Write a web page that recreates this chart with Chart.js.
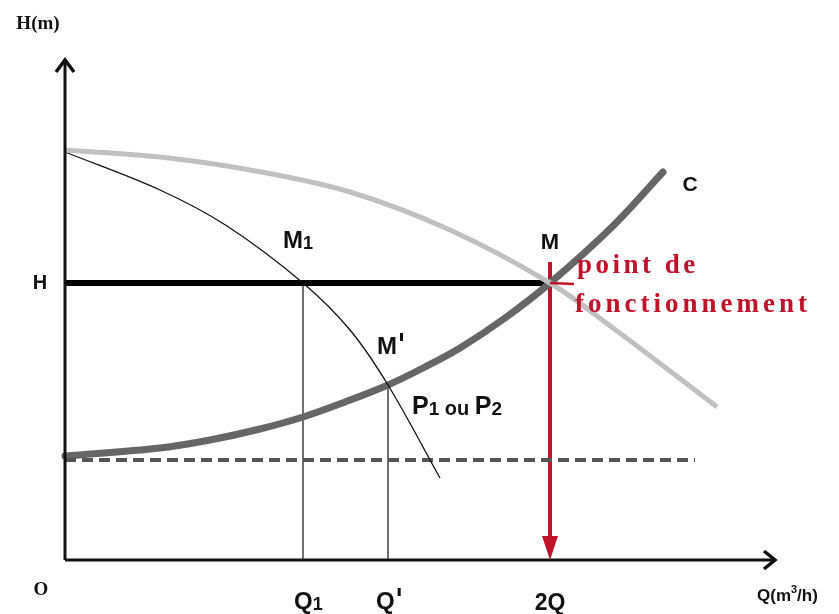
<!DOCTYPE html>
<html>
<head>
<meta charset="utf-8">
<script src="https://cdn.jsdelivr.net/npm/chart.js@4.4.0/dist/chart.umd.min.js"></script>
<style>
  html, body { margin: 0; padding: 0; background: #fff; }
  #wrap { width: 839px; height: 614px; }
</style>
</head>
<body>
<div id="wrap"><canvas id="chart"></canvas></div>
<script>
// courbes (Q et H en unites arbitraires)
const pumpTwoQ = [0, 9.5, 18.5, 28.5, 38.5, 48.5, 54.8, 65.2];
const pumpTwoH = [41, 40.3, 39.0, 36.8, 33, 27.7, 23.2, 15.3];

const pumpOneQ = [0, 9.5, 16.2, 23.8, 28.5, 32.3, 37.5];
const pumpOneH = [40.8, 37, 33.4, 27.7, 23, 17.5, 8.2];

const systemQ = [0, 9.5, 14.5, 19.5, 23.8, 28, 32.3, 36, 39.5, 44, 48.5, 54.8, 59.8];
const systemH = [10.4, 11.2, 12.0, 13.1, 14.3, 15.8, 17.5, 19.3, 21.2, 24.2, 27.7, 33.4, 38.8];

const staticH = 10;
const staticQmax = 63;

const qTicks = { O: 0, Q1: 23.8, Qp: 32.3, Q2: 48.5 };
const hPoint = 27.7;
const hPrime = 17.5;

const qMax = 71;
const hMax = 50;

function pts(xs, ys) {
  return xs.map((x, i) => ({ x: x, y: ys[i] }));
}

const red = "#c0122c";

// textes places en unites du graphique
const labels = [
  { t: "H(m)", x: -2.7, y: 53.6, font: "bold 19px 'Liberation Serif'", color: "#111", align: "center" },
  { t: "H", x: -2.5, y: hPoint, font: "bold 20px 'Liberation Sans'", color: "#111", align: "center" },
  { t: "O", x: -2.4, y: -3, font: "bold 19px 'Liberation Serif'", color: "#111", align: "center" },
  { t: "2Q", x: qTicks.Q2, y: -4.4, font: "bold 23px 'Liberation Sans'", color: "#111", align: "center" },
  { t: "C", x: 62.5, y: 37.5, font: "bold 21px 'Liberation Sans'", color: "#111", align: "center" },
  { t: "M", x: qTicks.Q2, y: 31.7, font: "bold 22px 'Liberation Sans'", color: "#111", align: "center" },
  { t: "point de", x: 51.2, y: 29.4, font: "bold 27px 'Liberation Serif'", color: red, spacing: "3.5px", align: "left" },
  { t: "fonctionnement", x: 51.0, y: 25.5, font: "bold 27px 'Liberation Serif'", color: red, spacing: "4px", align: "left" }
];

const subLabels = [
  { main: "Q", sub: "1", x: qTicks.Q1 + 0.3, y: -4.2, size: 24 },
  { main: "M", sub: "1", x: 23.0, y: 31.9, size: 24 },
  { main: "P", sub: "1", tail: " ou ", main2: "P", sub2: "2", x: 35.9, y: 15.3, size: 25 }
];

const primeLabels = [
  { t: "Q", x: qTicks.Qp + 0.0, y: -4.2, size: 24 },
  { t: "M", x: 32.4, y: 21.3, size: 24 }
];

const decorPlugin = {
  id: "decor",
  afterDatasetsDraw(chart) {
    const ctx = chart.ctx;
    const xs = chart.scales.x, ys = chart.scales.y;
    const px = (v) => xs.getPixelForValue(v);
    const py = (v) => ys.getPixelForValue(v);
    ctx.save();

    // axes
    ctx.strokeStyle = "#111";
    ctx.lineWidth = 3;
    ctx.lineCap = "butt";
    ctx.beginPath();
    ctx.moveTo(px(0), py(0));
    ctx.lineTo(px(qMax), py(0));
    ctx.moveTo(px(0), py(0));
    ctx.lineTo(px(0), py(hMax));
    ctx.stroke();
    ctx.lineWidth = 3.5;
    ctx.lineJoin = "miter";
    ctx.beginPath();
    ctx.moveTo(px(qMax) - 11, py(0) - 9);
    ctx.lineTo(px(qMax), py(0));
    ctx.lineTo(px(qMax) - 11, py(0) + 9);
    ctx.moveTo(px(0) - 9, py(hMax) + 12);
    ctx.lineTo(px(0), py(hMax));
    ctx.lineTo(px(0) + 9, py(hMax) + 12);
    ctx.stroke();

    // fleche rouge
    const ax = px(qTicks.Q2), ay = py(0);
    ctx.fillStyle = red;
    ctx.beginPath();
    ctx.moveTo(ax, ay);
    ctx.lineTo(ax - 8, ay - 24);
    ctx.lineTo(ax + 8, ay - 24);
    ctx.closePath();
    ctx.fill();
    ctx.strokeStyle = red;
    ctx.lineWidth = 2.5;
    ctx.beginPath();
    ctx.moveTo(ax, py(hPoint));
    ctx.lineTo(ax + 24, py(hPoint) + 1);
    ctx.stroke();

    // textes
    ctx.textBaseline = "middle";
    labels.forEach((l) => {
      ctx.font = l.font;
      ctx.fillStyle = l.color;
      ctx.textAlign = l.align;
      ctx.letterSpacing = l.spacing || "0px";
      ctx.fillText(l.t, px(l.x), py(l.y));
    });
    ctx.letterSpacing = "0px";

    ctx.textAlign = "left";
    ctx.fillStyle = "#111";
    subLabels.forEach((l) => {
      let x = px(l.x) - 12;
      const y = py(l.y);
      const big = "bold " + l.size + "px 'Liberation Sans'";
      const small = "bold " + (l.size - 6) + "px 'Liberation Sans'";
      ctx.font = big;
      ctx.fillText(l.main, x, y);
      x += ctx.measureText(l.main).width;
      ctx.font = small;
      ctx.fillText(l.sub, x, y + 3);
      x += ctx.measureText(l.sub).width;
      if (l.tail) {
        ctx.font = "bold " + (l.size - 5) + "px 'Liberation Sans'";
        ctx.fillText(l.tail, x, y + 2);
        x += ctx.measureText(l.tail).width;
        ctx.font = big;
        ctx.fillText(l.main2, x, y);
        x += ctx.measureText(l.main2).width;
        ctx.font = small;
        ctx.fillText(l.sub2, x, y + 3);
      }
    });

    primeLabels.forEach((l) => {
      const x = px(l.x) - 12;
      const y = py(l.y);
      ctx.font = "bold " + l.size + "px 'Liberation Sans'";
      ctx.fillText(l.t, x, y);
      const w = ctx.measureText(l.t).width;
      ctx.fillRect(x + w + 3, y - 14, 3, 8);
    });

    // Q(m3/h)
    ctx.font = "bold 17px 'Liberation Sans'";
    let qx = 757, qy = py(0) + 36;
    ctx.fillText("Q(m", qx, qy);
    qx += ctx.measureText("Q(m").width;
    ctx.font = "bold 11px 'Liberation Sans'";
    ctx.fillText("3", qx, qy - 6);
    qx += ctx.measureText("3").width;
    ctx.font = "bold 17px 'Liberation Sans'";
    ctx.fillText("/h)", qx, qy);

    ctx.restore();
  }
};

new Chart(document.getElementById("chart"), {
  type: "scatter",
  data: {
    datasets: [
      {
        label: "2 pompes",
        data: pts(pumpTwoQ, pumpTwoH),
        showLine: true,
        borderColor: "#c0c0c0",
        borderWidth: 5,
        tension: 0.35,
        pointRadius: 0
      },
      {
        label: "P1 ou P2",
        data: pts(pumpOneQ, pumpOneH),
        showLine: true,
        borderColor: "#111",
        borderWidth: 1.3,
        tension: 0.35,
        pointRadius: 0
      },
      {
        label: "hauteur statique",
        data: pts([0, staticQmax], [staticH, staticH]),
        showLine: true,
        borderColor: "#555",
        borderWidth: 4,
        borderDash: [11, 6],
        pointRadius: 0
      },
      {
        label: "C",
        data: pts(systemQ, systemH),
        showLine: true,
        borderColor: "#666",
        borderWidth: 7,
        tension: 0.35,
        borderCapStyle: "round",
        pointRadius: 0
      },
      {
        label: "H",
        data: pts([0, qTicks.Q2], [hPoint, hPoint]),
        showLine: true,
        borderColor: "#000",
        borderWidth: 6,
        pointRadius: 0
      },
      {
        label: "Q1",
        data: pts([qTicks.Q1, qTicks.Q1], [0, hPoint]),
        showLine: true,
        borderColor: "#111",
        borderWidth: 1.2,
        pointRadius: 0
      },
      {
        label: "Q'",
        data: pts([qTicks.Qp, qTicks.Qp], [0, hPrime]),
        showLine: true,
        borderColor: "#111",
        borderWidth: 1.2,
        pointRadius: 0
      },
      {
        label: "2Q",
        data: pts([qTicks.Q2, qTicks.Q2], [2.2, hPoint + 2.1]),
        showLine: true,
        borderColor: red,
        borderWidth: 4,
        pointRadius: 0
      }
    ]
  },
  options: {
    responsive: true,
    maintainAspectRatio: false,
    animation: false,
    layout: { padding: { left: 65, right: 64, top: 60, bottom: 54 } },
    plugins: {
      legend: { display: false },
      tooltip: { enabled: false }
    },
    datasets: { scatter: { clip: false } },
    scales: {
      x: { type: "linear", min: 0, max: qMax, display: false },
      y: { type: "linear", min: 0, max: hMax, display: false }
    }
  },
  plugins: [decorPlugin]
});
</script>
</body>
</html>
